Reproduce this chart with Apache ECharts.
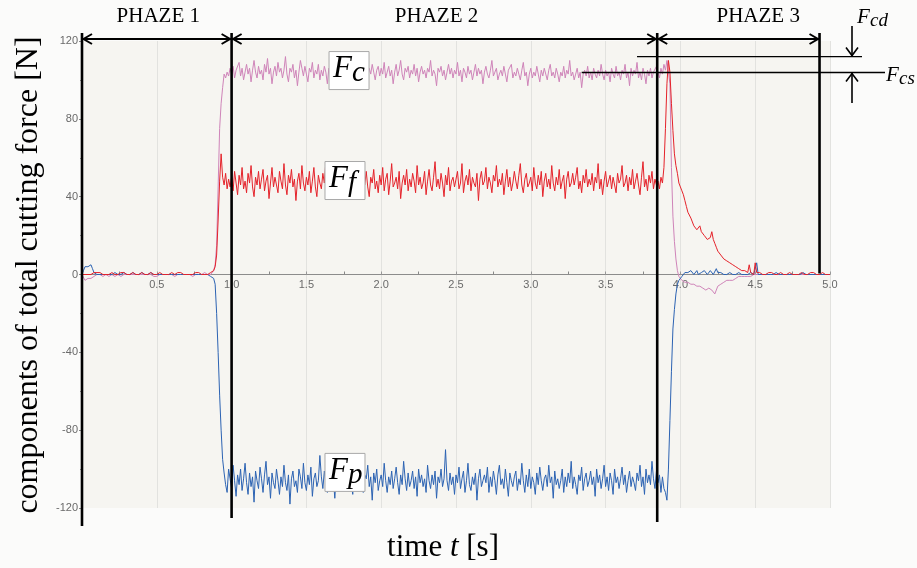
<!DOCTYPE html>
<html><head><meta charset="utf-8">
<script src="https://cdn.jsdelivr.net/npm/echarts@6/dist/echarts.min.js"></script>
<style>html,body{margin:0;padding:0;background:#fbfbfa}#c{width:917px;height:568px}</style>
</head><body><div id="c"></div><script>
// sampling interval of the recorded signals [s]
const dt = 0.01;
const yTicks = [-120, -80, -40, 0, 40, 80, 120];
const xTickLabels = ['0.5','1.0','1.5','2.0','2.5','3.0','3.5','4.0','4.5','5.0'];
const seriesNames = ['Fc', 'Ff', 'Fp'];

// Fc (cutting component), 0.00 .. 5.00 s
const Fc = [
0,-1,-3,-3,-2,-3,-2,-1,-1,0,
0,-1,0,0,-1,0,0,0,-1,0,
0,0,-1,0,0,0,-1,0,0,0,
0,-1,0,0,0,0,0,-1,0,0,
0,0,0,-1,0,0,0,0,-1,0,
-1,0,0,0,0,-1,0,0,0,0,
0,0,-1,0,0,0,0,0,0,-1,
0,0,0,0,-1,0,0,0,0,0,
0,0,1,0,0,1,0,1,2,5,
15,45,75,88,96,103,101,104,102,106,
103,107,101,105,104,109,102,106,100,104,
108,103,106,99,105,110,104,101,107,103,
105,100,108,104,111,103,106,98,104,107,
102,109,104,106,101,105,112,103,99,106,
104,108,101,105,97,104,110,106,102,107,
103,99,106,104,109,101,105,103,108,100,
105,102,107,104,98,106,103,110,102,105,
101,107,104,96,105,108,103,106,101,104,
109,103,100,106,104,111,102,105,99,107,
104,101,106,103,108,104,100,105,107,102,
106,103,109,101,104,107,102,105,98,104,
108,102,105,110,103,100,106,104,107,101,
105,103,108,102,106,99,104,107,103,105,
101,106,104,110,102,105,103,97,106,104,
107,102,105,100,104,108,103,106,101,105,
103,109,102,105,99,106,104,101,107,103,
105,100,104,108,102,106,103,105,98,104,
107,103,101,105,110,102,104,106,100,103,
105,102,107,103,99,105,104,108,101,104,
102,106,103,100,105,109,102,104,97,103,
106,101,104,102,107,103,99,105,102,106,
103,100,105,108,102,104,101,106,103,99,
104,102,107,101,105,103,110,102,104,100,
103,106,101,104,96,103,105,102,107,101,
104,100,106,103,101,105,102,108,103,100,
105,102,104,99,106,103,101,107,102,104,
100,105,103,108,101,104,97,106,102,105,
103,109,101,104,100,106,103,98,105,102,
106,101,104,103,107,104,101,106,103,108,
105,110,111,98,55,30,17,8,2,-1,
-2,-3,-4,-4,-5,-4,-5,-5,-6,-5,
-6,-6,-7,-6,-7,-7,-6,-8,-8,-7,
-7,-8,-9,-10,-8,-6,-5,-5,-4,-4,
-4,-3,-3,-3,-2,-3,-2,-2,-2,-1,
-2,-1,-1,-1,-1,-1,0,-1,0,0,
0,0,-1,0,0,0,0,0,0,0,
0,0,0,0,0,0,0,0,0,0,
0,0,0,0,0,0,0,0,0,0,
0,0,0,0,0,0,0,0,0,0,
0,0,0,0,0,0,0,0,0,0,
0];

// Ff (feed component)
const Ff = [
0,1,0,1,0,1,0,0,1,0,
1,0,1,0,0,1,0,1,0,0,
1,0,0,1,0,0,1,0,1,0,
0,1,0,0,1,1,0,0,0,1,
1,0,0,1,0,0,1,0,0,1,
0,1,1,0,0,1,0,1,0,0,
1,0,0,0,1,0,1,0,0,1,
0,1,0,1,0,0,1,0,1,0,
0,1,0,1,0,1,1,2,2,4,
10,28,48,62,50,46,52,44,49,45,
50,43,53,47,41,51,46,55,44,48,
42,52,47,56,45,40,50,46,53,44,
49,54,43,48,51,39,47,55,45,50,
46,42,53,48,44,57,46,41,51,47,
54,45,49,38,48,52,44,56,47,43,
50,46,53,42,48,55,45,40,51,47,
44,52,47,58,46,42,50,45,54,48,
41,49,53,46,44,51,39,48,55,45,
50,43,47,56,44,49,52,41,48,46,
53,45,40,50,47,54,44,48,42,51,
46,55,43,49,52,41,48,57,45,47,
50,44,53,39,47,51,46,54,43,49,
45,52,48,42,56,46,50,44,47,53,
41,48,54,46,43,50,58,45,49,44,
52,47,40,51,46,55,43,48,50,45,
49,53,44,47,57,42,48,51,46,54,
43,50,47,45,52,38,49,53,46,48,
55,44,50,47,42,51,48,56,45,49,
46,52,41,48,54,45,50,43,47,53,
48,44,51,57,46,42,49,52,45,47,
50,43,55,47,44,51,46,53,40,48,
52,45,49,44,56,47,43,50,46,54,
44,48,51,39,49,53,45,47,52,46,
50,55,44,48,42,51,47,54,45,49,
46,52,43,50,47,57,44,49,41,48,
53,45,48,51,44,50,46,42,52,47,
49,56,45,47,51,43,50,46,54,44,
48,52,46,41,50,58,45,49,43,51,
47,53,44,49,46,48,44,50,47,55,
75,98,110,104,88,74,62,56,52,47,
45,43,41,38,35,32,31,29,27,25,
25,23,24,25,22,23,20,19,18,17,
19,22,18,16,14,12,11,10,9,8,
8,7,7,6,6,5,5,4,3,3,
2,2,1,2,1,1,5,1,1,0,
6,1,0,1,0,0,1,0,0,1,
0,1,0,0,1,0,0,1,0,0,
1,0,0,1,0,0,1,0,0,0,
0,1,0,0,1,0,0,1,0,1,
0,0,1,0,0,1,0,0,1,0,
0];

// Fp (passive component)
const Fp = [
0,2,4,5,4,4,5,3,1,1,
0,1,0,0,0,1,0,0,0,0,
0,0,1,0,0,0,0,0,1,0,
0,0,0,0,1,0,0,0,0,0,
1,0,0,0,0,0,1,0,0,0,
0,0,0,1,0,0,0,0,0,1,
0,0,0,0,0,1,0,0,0,0,
0,1,0,0,0,0,0,1,0,0,
0,0,0,-1,0,0,-1,-1,-2,-5,
-20,-40,-62,-80,-95,-102,-108,-112,-100,-105,
-110,-98,-106,-114,-103,-108,-100,-111,-105,-97,
-107,-113,-102,-109,-104,-117,-101,-106,-110,-99,
-105,-112,-103,-96,-108,-104,-115,-102,-107,-110,
-100,-106,-113,-104,-109,-98,-107,-111,-103,-118,
-105,-101,-109,-106,-112,-100,-104,-110,-97,-107,
-111,-103,-108,-99,-114,-105,-102,-109,-106,-93,
-104,-110,-101,-107,-112,-103,-98,-108,-105,-115,
-102,-109,-106,-100,-111,-104,-107,-96,-110,-103,
-108,-113,-101,-106,-104,-110,-99,-107,-112,-103,
-105,-98,-109,-104,-116,-102,-107,-100,-111,-106,
-103,-109,-97,-106,-112,-104,-108,-101,-110,-105,
-99,-107,-113,-103,-108,-96,-105,-111,-102,-109,
-106,-101,-110,-104,-114,-100,-107,-103,-109,-105,
-112,-98,-106,-110,-103,-108,-101,-115,-104,-107,
-100,-109,-105,-90,-106,-111,-102,-108,-104,-113,
-103,-107,-99,-110,-105,-101,-112,-106,-97,-108,
-111,-104,-108,-102,-116,-105,-100,-109,-106,-103,
-107,-99,-112,-104,-109,-101,-106,-113,-103,-98,
-108,-105,-110,-100,-107,-114,-102,-106,-109,-104,
-101,-111,-105,-108,-97,-106,-112,-103,-109,-100,
-110,-104,-107,-113,-102,-108,-99,-106,-111,-105,
-103,-109,-98,-107,-104,-115,-101,-108,-105,-110,
-106,-100,-112,-104,-109,-102,-107,-96,-110,-104,
-108,-113,-103,-106,-99,-111,-105,-102,-109,-106,
-101,-108,-104,-114,-100,-107,-103,-110,-105,-98,
-109,-104,-111,-102,-106,-113,-100,-107,-104,-110,
-105,-99,-108,-103,-112,-106,-101,-109,-104,-107,
-111,-102,-106,-98,-109,-104,-113,-100,-107,-103,
-108,-96,-105,-110,-101,-107,-103,-112,-104,-110,
-112,-116,-100,-75,-50,-28,-18,-10,-5,-3,
-2,-1,0,1,0,1,0,2,1,0,
1,2,0,1,1,0,2,1,0,1,
2,1,0,1,3,1,0,1,2,0,
1,0,1,1,0,0,1,0,0,1,
0,0,1,0,0,0,0,1,0,0,
0,6,0,1,0,0,0,1,0,0,
0,0,0,0,1,0,0,0,0,0,
0,0,0,0,0,0,0,0,0,0,
0,0,1,0,0,0,0,0,0,0,
0,0,0,0,0,0,0,0,0,0,
0];

// annotation levels / times (data units)
const phaseBounds = [0, 1.0, 3.845, 4.93];
const phaseNames = ['PHAZE 1', 'PHAZE 2', 'PHAZE 3'];
const phaseLabelT = [0.51, 2.37, 4.52];
const FcdLevel = 112, FcsLevel = 103.8;
const boxLabels = [
  {sub: 'c', t: 1.785, v: 104.8},
  {sub: 'f', t: 1.758, v: 48.3},
  {sub: 'p', t: 1.758, v: -101.7}
];

(function () {
const colors = {Fc: '#cf84b9', Ff: '#e5222a', Fp: '#2c63b3'};
const pairs = arr => arr.map((v, i) => [Math.round(i * dt * 100) / 100, v]);
const dataMap = {Fc, Ff, Fp};

const chart = echarts.init(document.getElementById('c'), null, {renderer: 'canvas'});
const GRID = {left: 82, right: 87, top: 41, bottom: 60};
const plotH = 568 - GRID.top - GRID.bottom;
// x labels sit just under the zero line (axis drawn at y = 0)
const zeroOffset = plotH / 2;
chart.setOption({
  animation: false,
  backgroundColor: '#fbfbfa',
  grid: Object.assign({show: true, backgroundColor: '#f6f5f1', borderWidth: 0}, GRID),
  xAxis: {
    type: 'value', min: 0, max: 5, interval: 0.5,
    axisLine: {onZero: true, lineStyle: {color: '#8c8c8c', width: 1}},
    axisTick: {show: true, inside: true, length: 3, lineStyle: {color: '#999'}},
    minorTick: {show: true, splitNumber: 2, length: 3, lineStyle: {color: '#888'}},
    axisLabel: {color: '#6a6a6a', fontSize: 11, fontFamily: 'Liberation Sans, Arial', margin: 5 - zeroOffset,
      formatter: v => { const i = Math.round(v / 0.5) - 1; return i >= 0 ? xTickLabels[i] : ''; }},
    splitLine: {show: true, lineStyle: {color: '#e2e2df', width: 1}}
  },
  yAxis: {
    type: 'value', min: -120, max: 120, interval: 40,
    axisLine: {show: false},
    axisTick: {show: true, length: 3, lineStyle: {color: '#888'}},
    minorTick: {show: true, splitNumber: 2, length: 2, lineStyle: {color: '#999'}},
    splitLine: {show: false},
    axisLabel: {color: '#6a6a6a', fontSize: 11, fontFamily: 'Liberation Sans, Arial', margin: 4,
      formatter: v => yTicks.includes(v) ? String(v) : ''}
  },
  series: ['Fc', 'Fp', 'Ff'].map(n => ({
    name: n, type: 'line', data: pairs(dataMap[n]), showSymbol: false, symbol: 'none',
    sampling: 'none', lineStyle: {color: colors[n], width: 1}, itemStyle: {color: colors[n]}
  }))
});

const X = t => chart.convertToPixel({xAxisIndex: 0}, t);
const Y = v => chart.convertToPixel({yAxisIndex: 0}, v);
const yTopPx = Y(120), yBotPx = Y(-120), yZeroPx = Y(0);
const els = [];
const line = (x1, y1, x2, y2, w) => els.push({type: 'line', z: 100, shape: {x1, y1, x2, y2}, style: {stroke: '#000', lineWidth: w}});
const poly = (pts, w) => els.push({type: 'polyline', z: 100, shape: {points: pts}, style: {stroke: '#000', lineWidth: w, fill: null}});
const text = (s, x, y, font, align, va, extra) => els.push(Object.assign({type: 'text', z: 101, x, y,
  style: {text: s, x: 0, y: 0, font, fill: '#000', align, verticalAlign: va, textAlign: align, textVerticalAlign: va}}, extra || {}));

const bx = phaseBounds.map(X);
const bottoms = [yBotPx + 18, yBotPx + 10, yBotPx + 14, yZeroPx - 1];
bx.forEach((x, i) => line(x, yTopPx - 8, x, bottoms[i], 2.6));
const ay = yTopPx - 2;
for (let i = 0; i < 3; i++) {
  const a = bx[i], b = bx[i + 1];
  line(a, ay, b, ay, 2);
  poly([[a + 10, ay - 5], [a + 1.5, ay], [a + 10, ay + 5]], 2);
  poly([[b - 10, ay - 5], [b - 1.5, ay], [b - 10, ay + 5]], 2);
  text(phaseNames[i], X(phaseLabelT[i]), 16, '21px "Liberation Serif", serif', 'center', 'middle');
}
const yd = Y(FcdLevel), ys = Y(FcsLevel), axX = 852;
line(X(3.71), yd, 862, yd, 1.3);
line(X(3.34), ys, 885, ys, 1.3);
line(axX, 26, axX, yd, 1.6);
poly([[axX - 6, yd - 9], [axX, yd - 1], [axX + 6, yd - 9]], 1.6);
line(axX, ys, axX, 103, 1.6);
poly([[axX - 6, ys + 9], [axX, ys + 1], [axX + 6, ys + 9]], 1.6);
text('F', 857, 17, 'italic 21px "Liberation Serif", serif', 'left', 'middle');
text('cd', 870, 21, 'italic 19px "Liberation Serif", serif', 'left', 'middle');
text('F', 886, 75, 'italic 21px "Liberation Serif", serif', 'left', 'middle');
text('cs', 899, 79, 'italic 19px "Liberation Serif", serif', 'left', 'middle');
boxLabels.forEach(b => {
  const cx = X(b.t), cy = Y(b.v);
  els.push({type: 'rect', z: 100, shape: {x: cx - 20, y: cy - 19, width: 40, height: 38},
    style: {fill: '#ffffff', stroke: '#a8a8a8', lineWidth: 1}});
  text('F', cx - 16, cy - 2, 'italic 31px "Liberation Serif", serif', 'left', 'middle');
  text(b.sub, cx + 3, cy + 3, 'italic 29px "Liberation Serif", serif', 'left', 'middle');
});
text('components of total cutting force [N]', 29, 275, '32px "Liberation Serif", serif', 'center', 'middle', {rotation: Math.PI / 2});
els.push({type: 'text', z: 101, x: 443, y: 548, style: {
  text: '{a|time }{b|t}{a| [s]}', x: 0, y: 0, align: 'center', verticalAlign: 'middle', textAlign: 'center', textVerticalAlign: 'middle',
  rich: {a: {font: '31px "Liberation Serif", serif', fill: '#000'}, b: {font: 'italic 31px "Liberation Serif", serif', fill: '#000'}}}});

chart.setOption({graphic: {elements: els}});
})();
</script></body></html>
